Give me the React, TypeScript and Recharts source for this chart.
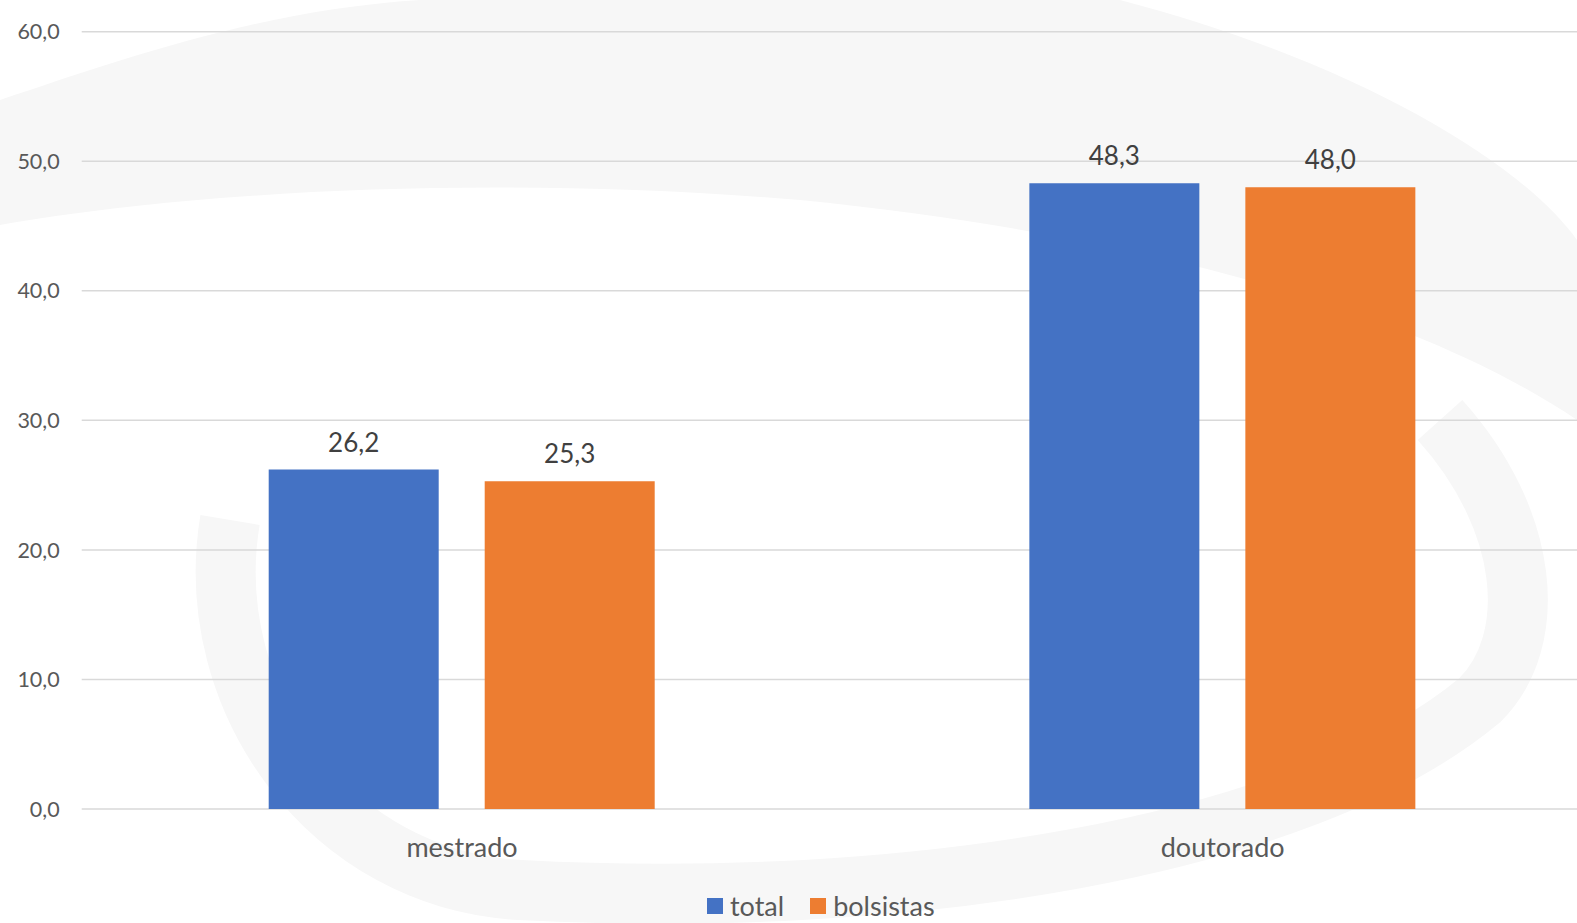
import { BarChart, Bar, XAxis, YAxis, CartesianGrid, Legend, LabelList } from 'recharts';

const categories = ['mestrado', 'doutorado'];
const totalValues = [26.2, 48.3];
const bolsistasValues = [25.3, 48.0];
const yTicks = [0, 10, 20, 30, 40, 50, 60];

const chartData = categories.map((name, i) => ({
  name,
  total: totalValues[i],
  bolsistas: bolsistasValues[i],
}));

const fmt = (v: number) => v.toFixed(1).replace('.', ',');
const FONT = 'Lato, "Open Sans", sans-serif';

function renderLegend() {
  const items = [
    { label: 'total', color: '#4472C4' },
    { label: 'bolsistas', color: '#ED7D31' },
  ];
  return (
    <div style={{ display: 'flex', alignItems: 'center', fontFamily: FONT, fontSize: 27, color: '#595959' }}>
      {items.map(it => (
        <div key={it.label} style={{ display: 'flex', alignItems: 'center', marginRight: 26 }}>
          <span style={{ width: 16, height: 16, background: it.color, display: 'inline-block', marginRight: 7 }} />
          <span>{it.label}</span>
        </div>
      ))}
    </div>
  );
}

export default function App() {
  return (
    <div style={{ position: 'fixed', left: 0, top: 0, width: 1577, height: 923, overflow: 'hidden', background: '#ffffff' }}>
      {/* faint watermark behind the chart */}
      <svg width={1577} height={923} style={{ position: 'absolute', left: 0, top: 0 }}>
        <path
          d="M0 100 C 120 60, 260 10, 420 0 L 1120 0 C 1350 60, 1520 160, 1577 240 L 1577 420 C 1400 300, 1100 230, 800 200 C 500 175, 200 190, 0 225 Z"
          fill="#f7f7f7"
        />
        <path
          d="M 230 520 C 200 700, 330 880, 520 890 C 900 910, 1300 850, 1480 700 C 1540 640, 1530 520, 1440 420"
          fill="none"
          stroke="#f7f7f7"
          strokeWidth={60}
        />
      </svg>
      <div style={{ position: 'absolute', left: 0, top: 0 }}>
        <BarChart
          width={1603}
          height={923}
          data={chartData}
          margin={{ top: 31.7, right: 0, left: 0, bottom: 0 }}
          barSize={170}
          barGap={46}
        >
          <CartesianGrid vertical={false} stroke="#d9d9d9" strokeWidth={1.5} />
          <XAxis
            dataKey="name"
            axisLine={false}
            tickLine={false}
            tickSize={0}
            tickMargin={29}
            height={80}
            tick={{ fontSize: 27, fill: '#595959', fontFamily: FONT }}
          />
          <YAxis
            domain={[0, 60]}
            ticks={yTicks}
            width={81.7}
            axisLine={false}
            tickLine={false}
            tickSize={0}
            tickMargin={22}
            tickFormatter={fmt}
            tick={{ fontSize: 21.5, fill: '#595959', fontFamily: FONT }}
          />
          <Legend
            content={renderLegend}
            wrapperStyle={{ position: 'absolute', left: 707, top: 889, width: 'auto', height: 34 }}
          />
          <Bar dataKey="total" name="total" fill="#4472C4" isAnimationActive={false}>
            <LabelList dataKey="total" position="top" offset={18} formatter={(v: any) => fmt(Number(v))} style={{ fontSize: 26, fill: '#404040', fontFamily: FONT }} />
          </Bar>
          <Bar dataKey="bolsistas" name="bolsistas" fill="#ED7D31" isAnimationActive={false}>
            <LabelList dataKey="bolsistas" position="top" offset={18} formatter={(v: any) => fmt(Number(v))} style={{ fontSize: 26, fill: '#404040', fontFamily: FONT }} />
          </Bar>
        </BarChart>
      </div>
    </div>
  );
}
